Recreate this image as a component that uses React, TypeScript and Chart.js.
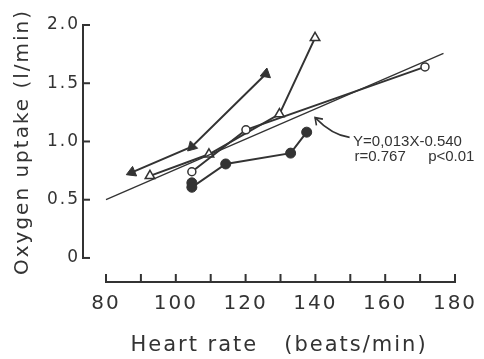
import React, { useEffect, useRef } from 'react';
import { Chart, registerables } from 'chart.js';

Chart.register(...registerables);

// ---- data ----
const filledTriX = [87.4, 104.6, 125.8];
const filledTriY = [0.735, 0.955, 1.58];
const openTriX = [92.6, 109.5, 129.7, 139.9];
const openTriY = [0.705, 0.89, 1.235, 1.89];
const openCircX = [104.6, 120.1, 171.4];
const openCircY = [0.74, 1.1, 1.64];
const filledCircX = [104.6, 104.6, 114.3, 132.9, 137.5];
const filledCircY = [0.645, 0.607, 0.807, 0.9, 1.08];
const regX = [80, 176.7];
const regY = [0.5, 1.757];

const xTickValues = [80, 90, 100, 110, 120, 130, 140, 150, 160, 170, 180];
const xTickLabels = ['80', '', '100', '', '120', '', '140', '', '160', '', '180'];
const yTickValues = [0, 0.5, 1, 1.5, 2];
const yTickLabels = ['0', '0.5', '1.0', '1.5', '2.0'];

const xTitle = 'Heart rate   (beats/min)';
const yTitle = 'Oxygen uptake (l/min)';
const eqLine1 = 'Y=0,013X-0.540';
const eqLine2a = 'r=0.767';
const eqLine2b = 'p<0.01';

// annotation anchors (data coordinates)
const eqPos1 = [150.8, 1.0];
const eqPos2a = [151.2, 0.865];
const eqPos2b = [172.3, 0.865];
const arrowTail = [149.8, 1.035];
const arrowCtrl = [144.8, 1.055];
const arrowTip = [139.9, 1.205];

const X_MIN = 73.41;
const X_MAX = 185.73;
const Y_MIN = -0.215;
const Y_MAX = 2.206;

const INK = '#333333';
const TEXT = '#333333';
const FONT = "'DejaVu Sans', sans-serif";

const pts = (xs: number[], ys: number[]) => xs.map((x, i) => ({ x, y: ys[i] }));

const customPlugin = {
  id: 'customAxesAndNotes',
  beforeDraw(chart: any) {
    const ctx = chart.ctx;
    ctx.save();
    ctx.fillStyle = '#ffffff';
    ctx.fillRect(0, 0, chart.width, chart.height);
    ctx.restore();
    ctx.letterSpacing = '2px';
  },
  afterDraw(chart: any) {
    const ctx = chart.ctx;
    const xs = chart.scales.x;
    const ys = chart.scales.y;
    ctx.save();
    ctx.letterSpacing = '0px';
    ctx.fillStyle = INK;
    // y axis (vertical line with inward ticks)
    const yx = Math.round(xs.getPixelForValue(X_MIN));
    const yTop = ys.getPixelForValue(yTickValues[yTickValues.length - 1]);
    const yBot = ys.getPixelForValue(yTickValues[0]);
    ctx.fillRect(yx - 1, yTop - 1, 2, yBot - yTop + 2);
    yTickValues.forEach((v) => {
      const p = ys.getPixelForValue(v);
      ctx.fillRect(yx - 1, p - 1, 8, 2);
    });
    // x axis (horizontal line with upward ticks)
    const xy = Math.round(ys.getPixelForValue(Y_MIN)) - 1;
    const xL = xs.getPixelForValue(xTickValues[0]);
    const xR = xs.getPixelForValue(xTickValues[xTickValues.length - 1]);
    ctx.fillRect(xL - 1, xy - 1, xR - xL + 2, 2);
    xTickValues.forEach((v) => {
      const p = xs.getPixelForValue(v);
      ctx.fillRect(p - 1, xy - 8, 2, 8);
    });

    // annotation text
    ctx.fillStyle = TEXT;
    ctx.font = "15px 'Liberation Sans', sans-serif";
    ctx.textAlign = 'left';
    ctx.textBaseline = 'middle';
    ctx.fillText(eqLine1, xs.getPixelForValue(eqPos1[0]), ys.getPixelForValue(eqPos1[1]));
    ctx.fillText(eqLine2a, xs.getPixelForValue(eqPos2a[0]), ys.getPixelForValue(eqPos2a[1]));
    ctx.fillText(eqLine2b, xs.getPixelForValue(eqPos2b[0]), ys.getPixelForValue(eqPos2b[1]));

    // curved arrow
    ctx.strokeStyle = INK;
    const tx = xs.getPixelForValue(arrowTail[0]);
    const ty = ys.getPixelForValue(arrowTail[1]);
    const cx = xs.getPixelForValue(arrowCtrl[0]);
    const cy = ys.getPixelForValue(arrowCtrl[1]);
    const hx = xs.getPixelForValue(arrowTip[0]);
    const hy = ys.getPixelForValue(arrowTip[1]);
    ctx.lineWidth = 1.6;
    ctx.beginPath();
    ctx.moveTo(tx, ty);
    ctx.quadraticCurveTo(cx, cy, hx, hy);
    ctx.stroke();
    const ang = Math.atan2(cy - hy, cx - hx);
    const len = 8;
    ctx.beginPath();
    ctx.moveTo(hx + Math.cos(ang + 0.6) * len, hy + Math.sin(ang + 0.6) * len);
    ctx.lineTo(hx, hy);
    ctx.lineTo(hx + Math.cos(ang - 0.6) * len, hy + Math.sin(ang - 0.6) * len);
    ctx.stroke();
    ctx.restore();
  },
};

export default function App() {
  const ref = useRef<HTMLCanvasElement | null>(null);
  useEffect(() => {
    document.body.style.margin = '0';
    const canvas = ref.current;
    if (!canvas) return;
    const common = { showLine: true, borderColor: INK, borderWidth: 2, clip: false as any };
    const chart = new Chart(canvas, {
      type: 'scatter',
      data: {
        datasets: [
          {
            ...common,
            label: 'regression',
            data: pts(regX, regY),
            borderWidth: 1.3,
            pointRadius: 0,
          },
          {
            ...common,
            label: 'open circle',
            data: pts(openCircX, openCircY),
            pointStyle: 'circle',
            pointRadius: 4,
            pointBackgroundColor: '#ffffff',
            pointBorderColor: INK,
            pointBorderWidth: 1.5,
          },
          {
            ...common,
            label: 'open triangle',
            data: pts(openTriX, openTriY),
            pointStyle: 'triangle',
            pointRadius: 5.5,
            pointBackgroundColor: '#ffffff',
            pointBorderColor: INK,
            pointBorderWidth: 1.5,
          },
          {
            ...common,
            label: 'filled triangle',
            data: pts(filledTriX, filledTriY),
            pointStyle: 'triangle',
            pointRadius: 6,
            pointRotation: [247, 225, 10],
            pointBackgroundColor: INK,
            pointBorderColor: INK,
            pointBorderWidth: 1,
          },
          {
            ...common,
            label: 'filled circle',
            data: pts(filledCircX, filledCircY),
            pointStyle: 'circle',
            pointRadius: 5,
            pointBackgroundColor: INK,
            pointBorderColor: INK,
            pointBorderWidth: 1,
          },
        ],
      } as any,
      options: {
        animation: false,
        responsive: false,
        maintainAspectRatio: false,
        layout: { autoPadding: false, padding: { left: 0, top: 1, right: 9, bottom: 0 } },
        plugins: { legend: { display: false }, tooltip: { enabled: false } },
        scales: {
          x: {
            type: 'linear',
            min: X_MIN,
            max: X_MAX,
            grid: { display: false, drawTicks: false },
            border: { display: false },
            afterBuildTicks: (s: any) => {
              s.ticks = xTickValues.map((v) => ({ value: v }));
            },
            afterFit: (s: any) => {
              s.height = 76;
              s.paddingLeft = 0;
              s.paddingRight = 0;
            },
            ticks: {
              autoSkip: false,
              maxRotation: 0,
              minRotation: 0,
              padding: 9,
              color: TEXT,
              font: { family: FONT, size: 20 },
              callback: (_v: any, i: number) => xTickLabels[i],
            },
            title: {
              display: true,
              text: xTitle,
              color: TEXT,
              font: { family: FONT, size: 21 },
              padding: { top: 0, bottom: 1 },
            },
          },
          y: {
            type: 'linear',
            min: Y_MIN,
            max: Y_MAX,
            grid: { display: false, drawTicks: false },
            border: { display: false },
            afterBuildTicks: (s: any) => {
              s.ticks = yTickValues.map((v) => ({ value: v }));
            },
            afterFit: (s: any) => {
              s.width = 83;
              s.paddingTop = 0;
              s.paddingBottom = 0;
            },
            ticks: {
              autoSkip: false,
              padding: 3,
              color: TEXT,
              font: { family: FONT, size: 17 },
              callback: (_v: any, i: number) => yTickLabels[i],
            },
            title: {
              display: true,
              text: yTitle,
              color: TEXT,
              font: { family: FONT, size: 20 },
              padding: { top: 11, bottom: 0 },
            },
          },
        },
      } as any,
      plugins: [customPlugin],
    });
    return () => chart.destroy();
  }, []);
  return (
    <div style={{ width: 484, height: 359 }}>
      <canvas ref={ref} width={484} height={359} style={{ display: 'block' }} />
    </div>
  );
}
